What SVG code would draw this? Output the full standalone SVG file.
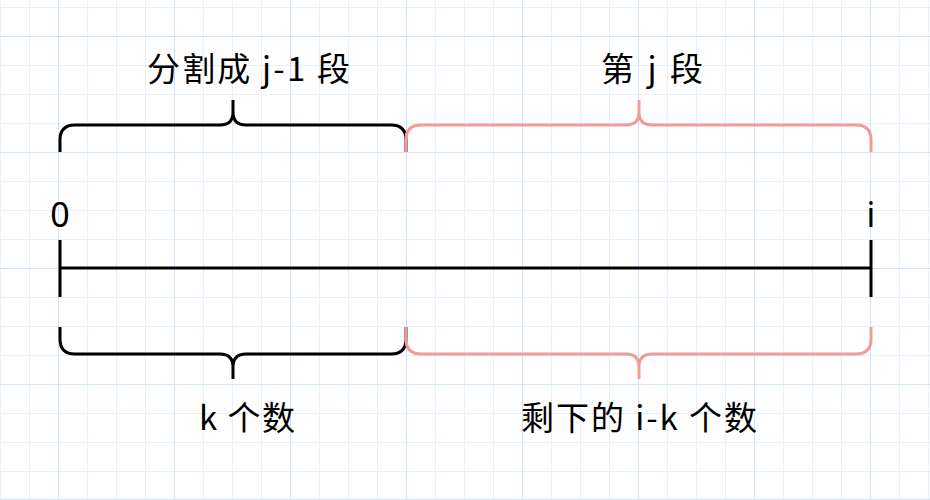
<svg xmlns="http://www.w3.org/2000/svg" width="930" height="500" viewBox="0 0 930 500">
<defs>
<style>
.minor{stroke:#e6f0fb;stroke-width:1;fill:none}
.major{stroke:#cfe2f7;stroke-width:1;fill:none}
.k{stroke:#000;stroke-width:3;fill:none;stroke-linecap:butt;stroke-linejoin:round}
.p{stroke:#F19C99;stroke-width:3;fill:none;stroke-linejoin:round}
.t{font-family:"Noto Sans CJK SC","Noto Sans",sans-serif;font-size:33px;fill:#000}
.n{font-family:"Noto Sans","Noto Sans CJK SC",sans-serif;font-size:34px;fill:#000}
</style>
</defs>
<rect width="930" height="500" fill="#fff"/>
<g id="grid">
<path class="minor" d="M0.5,0V500M29.5,0V500M87.5,0V500M116.5,0V500M145.5,0V500M203.5,0V500M232.5,0V500M261.5,0V500M319.5,0V500M348.5,0V500M377.5,0V500M435.5,0V500M464.5,0V500M493.5,0V500M551.5,0V500M580.5,0V500M609.5,0V500M667.5,0V500M696.5,0V500M725.5,0V500M783.5,0V500M812.5,0V500M841.5,0V500M899.5,0V500M928.5,0V500"/>
<path class="minor" d="M0,7.5H930M0,65.5H930M0,94.5H930M0,123.5H930M0,181.5H930M0,210.5H930M0,239.5H930M0,297.5H930M0,326.5H930M0,355.5H930M0,413.5H930M0,442.5H930M0,471.5H930"/>
<path class="major" d="M58.5,0V500M174.5,0V500M290.5,0V500M406.5,0V500M522.5,0V500M638.5,0V500M754.5,0V500M870.5,0V500"/>
<path class="major" d="M0,36.5H930M0,152.5H930M0,268.5H930M0,384.5H930M0,499.5H930"/>
</g>
<g id="connectors">
<path class="k" d="M60,268H871"/>
</g>
<g id="tick-0"><path class="k" d="M60,240V297"/></g>
<g id="tick-i"><path class="k" d="M871,240V297"/></g>
<g id="label-0"><text class="n" x="60" y="227" text-anchor="middle">0</text></g>
<g id="label-i"><text class="n" x="871" y="227" text-anchor="middle">i</text></g>
<g id="brace-top-left"><path class="k" d="M60,152V140Q60,125 75,125H220Q233,125 233,112V100M233,112Q233,125 246,125H391Q406,125 406,140V152"/></g>
<g id="brace-top-right"><path class="p" d="M406,152V140Q406,125 421,125H626Q639,125 639,112V100M639,112Q639,125 652,125H856Q871,125 871,140V152"/></g>
<g id="brace-bottom-left"><path class="k" d="M60,327V339Q60,354 75,354H220Q233,354 233,367V379M233,367Q233,354 246,354H391Q406,354 406,339V327"/></g>
<g id="brace-bottom-right"><path class="p" d="M406,327V339Q406,354 421,354H626Q639,354 639,367V379M639,367Q639,354 652,354H856Q871,354 871,339V327"/></g>
<g id="label-top-left"><text class="t" x="147" y="81" textLength="203" lengthAdjust="spacing">分割成 j-1 段</text></g>
<g id="label-top-right"><text class="t" x="601" y="81" textLength="102" lengthAdjust="spacing">第 j 段</text></g>
<g id="label-bottom-left"><text class="t" x="199" y="430" textLength="96" lengthAdjust="spacing">k 个数</text></g>
<g id="label-bottom-right"><text class="t" x="521" y="430" textLength="236" lengthAdjust="spacing">剩下的 i-k 个数</text></g>
</svg>
